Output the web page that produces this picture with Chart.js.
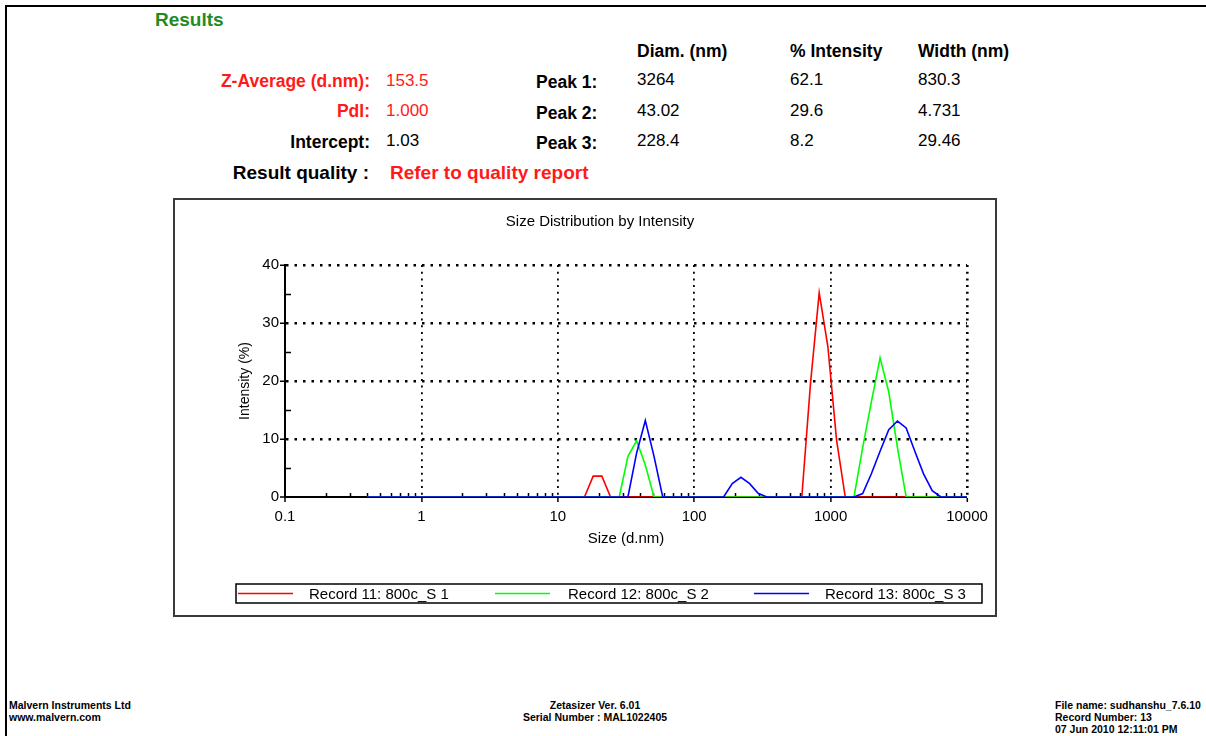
<!DOCTYPE html>
<html>
<head>
<meta charset="utf-8">
<script src="https://cdn.jsdelivr.net/npm/chart.js@4.4.1/dist/chart.umd.min.js"></script>
<style>
    body {
        margin: 0;
        width: 1206px;
        height: 736px;
        overflow: hidden;
        position: relative;
        background: #fff;
        font-family: 'Liberation Sans', Arial, sans-serif;
        color: #000;
    }
    .t { position: absolute; white-space: nowrap; font-size: 17px; line-height: 20px; }
    .b { font-weight: bold; }
    .red { color: #ff1a1a; }
    .rt { text-align: right; }
    #frame-top { position: absolute; left: 5px; top: 5px; width: 1201px; height: 2px; background: #000; }
    #frame-left { position: absolute; left: 5px; top: 5px; width: 2px; height: 731px; background: #000; }
    #box {
        position: absolute;
        left: 173px;
        top: 198px;
        width: 820px;
        height: 415px;
        border: 2px solid #3a3a3a;
    }
    #box canvas { position: absolute; left: 0; top: 0; }
    .foot { position: absolute; font-size: 10.5px; line-height: 12px; font-weight: bold; white-space: nowrap; }
</style>
</head>
<body>
<div id="frame-top"></div>
<div id="frame-left"></div>

<div class="t b" style="left:155px;top:10px;color:#1f8c1f;font-size:19px;">Results</div>

<div class="t b" style="left:637px;top:41px;font-size:17.5px;">Diam. (nm)</div>
<div class="t b" style="left:790px;top:41px;font-size:17.5px;">% Intensity</div>
<div class="t b" style="left:918px;top:41px;font-size:17.5px;">Width (nm)</div>

<div class="t b red rt" style="right:836px;top:71px;font-size:17.5px;">Z-Average (d.nm):</div>
<div class="t red" style="left:386px;top:71px;">153.5</div>
<div class="t b red rt" style="right:836px;top:101px;font-size:17.5px;">PdI:</div>
<div class="t red" style="left:386px;top:101px;">1.000</div>
<div class="t b rt" style="right:836px;top:132px;font-size:17.5px;">Intercept:</div>
<div class="t" style="left:386px;top:131px;">1.03</div>
<div class="t b rt" style="right:837px;top:163px;font-size:19px;">Result quality :</div>
<div class="t b red" style="left:390px;top:163px;font-size:19px;">Refer to quality report</div>

<div class="t b" style="left:536px;top:72px;font-size:17.5px;">Peak 1:</div>
<div class="t b" style="left:536px;top:103px;font-size:17.5px;">Peak 2:</div>
<div class="t b" style="left:536px;top:133px;font-size:17.5px;">Peak 3:</div>

<div class="t" style="left:637px;top:70px;">3264</div>
<div class="t" style="left:790px;top:70px;">62.1</div>
<div class="t" style="left:918px;top:70px;">830.3</div>
<div class="t" style="left:637px;top:101px;">43.02</div>
<div class="t" style="left:790px;top:101px;">29.6</div>
<div class="t" style="left:918px;top:101px;">4.731</div>
<div class="t" style="left:637px;top:131px;">228.4</div>
<div class="t" style="left:790px;top:131px;">8.2</div>
<div class="t" style="left:918px;top:131px;">29.46</div>

<div id="box"><canvas id="grafico" width="820" height="415"></canvas></div>

<div class="foot" style="left:9px;top:699px;">Malvern Instruments Ltd<br>www.malvern.com</div>
<div class="foot" style="left:445px;top:699px;width:300px;text-align:center;">Zetasizer Ver. 6.01<br>Serial Number : MAL1022405</div>
<div class="foot" style="left:1055px;top:699px;">File name: sudhanshu_7.6.10<br>Record Number: 13<br>07 Jun 2010 12:11:01 PM</div>

<script>
// size classes (d.nm)
const sizes = [
    0.4, 0.4632, 0.5365, 0.6213, 0.7195, 0.8332, 0.9649, 1.117, 1.294, 1.499,
    1.736, 2.010, 2.328, 2.696, 3.122, 3.615, 4.187, 4.849, 5.615, 6.503,
    7.531, 8.721, 10.10, 11.70, 13.54, 15.69, 18.17, 21.04, 24.36, 28.21,
    32.67, 37.84, 43.82, 50.75, 58.77, 68.06, 78.82, 91.28, 105.7, 122.4,
    141.8, 164.2, 190.1, 220.2, 255.0, 295.3, 342.0, 396.1, 458.7, 531.2,
    615.1, 712.4, 825.0, 955.4, 1106, 1281, 1484, 1718, 1990, 2305,
    2669, 3091, 3580, 4145, 4801, 5560, 6439, 7456, 8635, 10000
];

// intensity (%)
const record11 = [
    0, 0, 0, 0, 0, 0, 0, 0, 0, 0,
    0, 0, 0, 0, 0, 0, 0, 0, 0, 0,
    0, 0, 0, 0, 0, 0, 3.6, 3.6, 0, 0,
    0, 0, 0, 0, 0, 0, 0, 0, 0, 0,
    0, 0, 0, 0, 0, 0, 0, 0, 0, 0,
    0, 19.6, 35.2, 25.9, 9.8, 0, 0, 0, 0, 0,
    0, 0, 0, 0, 0, 0, 0, 0, 0, 0
];
const record12 = [
    0, 0, 0, 0, 0, 0, 0, 0, 0, 0,
    0, 0, 0, 0, 0, 0, 0, 0, 0, 0,
    0, 0, 0, 0, 0, 0, 0, 0, 0, 0,
    7.0, 9.7, 5.5, 0, 0, 0, 0, 0, 0, 0,
    0, 0, 0, 0, 0, 0, 0, 0, 0, 0,
    0, 0, 0, 0, 0, 0, 0, 8.5, 16.4, 24.0,
    18.1, 8.5, 0, 0, 0, 0, 0, 0, 0, 0
];
const record13 = [
    0, 0, 0, 0, 0, 0, 0, 0, 0, 0,
    0, 0, 0, 0, 0, 0, 0, 0, 0, 0,
    0, 0, 0, 0, 0, 0, 0, 0, 0, 0,
    0, 7.6, 13.2, 7.0, 0, 0, 0, 0, 0, 0,
    0, 0, 2.3, 3.4, 2.3, 0.6, 0, 0, 0, 0,
    0, 0, 0, 0, 0, 0, 0, 0.6, 4.0, 7.9,
    11.6, 13.1, 11.9, 7.9, 4.0, 1.1, 0, 0, 0, 0
];

const recordLabels = ['Record 11: 800c_S 1', 'Record 12: 800c_S 2', 'Record 13: 800c_S 3'];
const recordColors = ['#ff0000', '#00ff00', '#0000ff'];

const xTickValues = [0.1, 1, 10, 100, 1000, 10000];
const xTickLabels = ['0.1', '1', '10', '100', '1000', '10000'];
const yMinorTicks = [5, 15, 25, 35];

Chart.defaults.font.family = "'Liberation Sans', Arial, sans-serif";
Chart.defaults.font.size = 15;
Chart.defaults.color = '#000';

function toPoints(values) {
    return sizes.map((s, i) => ({ x: s, y: values[i] }));
}

// small tick marks on the axes
const minorTicks = {
    id: 'minorTicks',
    beforeDatasetsDraw(chart) {
        const ctx = chart.ctx;
        const x = chart.scales.x;
        const y = chart.scales.y;
        ctx.save();
        ctx.strokeStyle = '#000';
        ctx.lineWidth = 1.5;
        ctx.beginPath();
        for (let d = 0.1; d < 5000; d *= 10) {
            for (let m = 2; m < 10; m++) {
                const px = Math.round(x.getPixelForValue(m * d)) + 0.5;
                ctx.moveTo(px, x.top);
                ctx.lineTo(px, x.top - 4);
            }
        }
        yMinorTicks.forEach((v) => {
            const py = Math.round(y.getPixelForValue(v)) + 0.5;
            ctx.moveTo(y.right, py);
            ctx.lineTo(y.right + 6, py);
        });
        ctx.stroke();
        ctx.restore();
    }
};

// boxed legend below the plot
const boxLegend = {
    id: 'boxLegend',
    afterDraw(chart) {
        const ctx = chart.ctx;
        const lineX = [63, 320, 579];
        const textX = [134, 393, 650];
        const midY = 393.5;
        ctx.save();
        ctx.strokeStyle = '#000';
        ctx.lineWidth = 1.5;
        ctx.strokeRect(61, 384, 746, 19);
        ctx.font = "15px 'Liberation Sans', Arial, sans-serif";
        ctx.textBaseline = 'middle';
        ctx.fillStyle = '#000';
        chart.data.datasets.forEach((ds, i) => {
            ctx.strokeStyle = ds.borderColor;
            ctx.lineWidth = 1.6;
            ctx.beginPath();
            ctx.moveTo(lineX[i], midY);
            ctx.lineTo(lineX[i] + 55, midY);
            ctx.stroke();
            ctx.fillText(ds.label, textX[i], midY + 1);
        });
        ctx.restore();
    }
};

const grafico = new Chart(document.getElementById('grafico'), {
    type: 'line',
    data: {
        datasets: [record11, record12, record13].map((rec, i) => ({
            label: recordLabels[i],
            data: toPoints(rec),
            borderColor: recordColors[i],
            backgroundColor: recordColors[i],
            borderWidth: 1.6,
            pointRadius: 0,
            tension: 0,
            fill: false,
            order: 2 - i
        }))
    },
    options: {
        responsive: false,
        animation: false,
        layout: { padding: { left: 58, right: 28, top: 0, bottom: 62 } },
        plugins: {
            legend: { display: false },
            tooltip: { enabled: false },
            title: {
                display: true,
                text: 'Size Distribution by Intensity',
                font: { size: 15, weight: 'normal' },
                color: '#000',
                padding: { top: 13, bottom: 34 }
            }
        },
        scales: {
            x: {
                type: 'logarithmic',
                min: 0.1,
                max: 10000,
                afterBuildTicks: (scale) => {
                    scale.ticks = xTickValues.map((v) => ({ value: v }));
                },
                afterFit: (scale) => { scale.height = 56; },
                ticks: {
                    autoSkip: false,
                    maxRotation: 0,
                    padding: 6,
                    callback: (value, index) => xTickLabels[index]
                },
                grid: {
                    color: '#000',
                    lineWidth: (ctx) => (ctx.tick && ctx.tick.value === 0.1) ? 0 : (ctx.tick && ctx.tick.value === 10000 ? 2.6 : 1.8),
                    drawTicks: true,
                    tickLength: 5,
                    tickColor: '#000',
                    tickWidth: 1.5
                },
                border: { display: true, color: '#000', width: 2, dash: [2, 4.7] },
                title: {
                    display: true,
                    text: 'Size (d.nm)',
                    font: { size: 15 },
                    padding: { top: 0, bottom: 5 }
                }
            },
            y: {
                min: 0,
                max: 40,
                afterFit: (scale) => { scale.width = 52; },
                ticks: { stepSize: 10, padding: 1 },
                grid: {
                    color: '#000',
                    lineWidth: (ctx) => (ctx.tick && ctx.tick.value === 0) ? 0 : 2.5,
                    drawTicks: true,
                    tickLength: 5,
                    tickColor: '#000',
                    tickWidth: 1.5
                },
                border: { display: true, color: '#000', width: 2, dash: [2.5, 6] },
                title: {
                    display: true,
                    text: 'Intensity (%)',
                    font: { size: 14 },
                    padding: { top: 4, bottom: 0 }
                }
            }
        }
    },
    plugins: [minorTicks, boxLegend]
});
</script>
</body>
</html>
